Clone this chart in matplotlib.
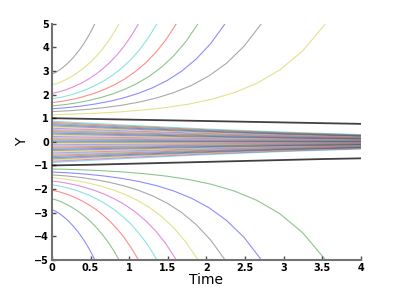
import numpy as np
import matplotlib.pyplot as plt

# MATLAB-style colour order used by the curves
colors = [(0, 0, 1), (0, 0.5, 0), (1, 0, 0), (0, 0.75, 0.75),
          (0.75, 0, 0.75), (0.75, 0.75, 0), (0.25, 0.25, 0.25)]

# outer curves above y=1 (the lower ones mirror them)
# each curve is sampled at fractions of the time where it leaves the plot
outer_frac = [0, 1/12, 2/12, 3/12, 4/12, 5/12, 6/12, 7/12, 8/12, 9/12,
              10/12, 11/12, 1]
outer_tend = [3.54, 2.71, 2.24, 1.89, 1.61, 1.36, 1.12, 0.87, 0.556]
outer_y = [
    [1.15, 1.174, 1.213, 1.268, 1.345, 1.450, 1.596, 1.800, 2.084, 2.484, 3.048, 3.852, 5.0],
    [1.28, 1.315, 1.372, 1.448, 1.549, 1.682, 1.857, 2.087, 2.390, 2.792, 3.326, 4.041, 5.0],
    [1.40, 1.444, 1.511, 1.601, 1.716, 1.865, 2.053, 2.294, 2.601, 2.995, 3.504, 4.157, 5.0],
    [1.52, 1.570, 1.646, 1.746, 1.872, 2.030, 2.226, 2.471, 2.777, 3.160, 3.638, 4.242, 5.0],
    [1.66, 1.715, 1.800, 1.908, 2.041, 2.206, 2.408, 2.655, 2.955, 3.322, 3.772, 4.322, 5.0],
    [1.82, 1.881, 1.971, 2.085, 2.224, 2.394, 2.597, 2.839, 3.131, 3.478, 3.897, 4.399, 5.0],
    [2.05, 2.115, 2.211, 2.330, 2.473, 2.643, 2.843, 3.077, 3.351, 3.671, 4.047, 4.487, 5.0],
    [2.41, 2.478, 2.576, 2.696, 2.836, 2.999, 3.186, 3.400, 3.644, 3.920, 4.235, 4.594, 5.0],
    [2.87, 2.935, 3.028, 3.139, 3.267, 3.412, 3.574, 3.756, 3.957, 4.180, 4.426, 4.699, 5.0],
]

# the two black curves starting at +1 and -1
black_t = [0, 0.5, 1, 1.5, 2, 2.5, 3, 3.5, 4]
black_up = [1.0, 0.97, 0.94, 0.91, 0.88, 0.85, 0.82, 0.79, 0.76]
black_lo = [-1.0, -0.97, -0.93, -0.89, -0.85, -0.81, -0.77, -0.73, -0.70]

# inner curves (positive half, negative half mirrors), y at t = 0..4
inner_t = [0, 1, 2, 3, 4]
inner_y0 = [0.025, 0.075, 0.125, 0.175, 0.225, 0.275, 0.325, 0.375, 0.425,
            0.475, 0.525, 0.575, 0.625, 0.675, 0.725, 0.775, 0.825, 0.875]
inner_y1 = [0.020, 0.060, 0.100, 0.140, 0.180, 0.220, 0.260, 0.300, 0.340,
            0.380, 0.420, 0.460, 0.500, 0.540, 0.580, 0.620, 0.660, 0.700]
inner_y2 = [0.016, 0.047, 0.078, 0.109, 0.140, 0.171, 0.202, 0.233, 0.264,
            0.295, 0.326, 0.357, 0.388, 0.419, 0.450, 0.481, 0.512, 0.543]
inner_y3 = [0.012, 0.035, 0.059, 0.082, 0.106, 0.129, 0.153, 0.176, 0.200,
            0.223, 0.247, 0.270, 0.294, 0.317, 0.341, 0.364, 0.388, 0.411]
inner_y4 = [0.009, 0.026, 0.044, 0.061, 0.079, 0.096, 0.114, 0.131, 0.149,
            0.166, 0.184, 0.201, 0.219, 0.236, 0.254, 0.271, 0.289, 0.306]

xticks = [0, 0.5, 1, 1.5, 2, 2.5, 3, 3.5, 4]
xticklabels = ["0", "0.5", "1", "1.5", "2", "2.5", "3", "3.5", "4"]
yticks = [-5, -4, -3, -2, -1, 0, 1, 2, 3, 4, 5]

# build the full list of curves in increasing starting value
frac = np.array(outer_frac)
curves = []
for i in range(len(outer_y) - 1, -1, -1):
    curves.append((frac * outer_tend[i], -np.array(outer_y[i]), False))
curves.append((black_t, black_lo, True))
inner = np.array([inner_y0, inner_y1, inner_y2, inner_y3, inner_y4]).T
for row in inner[::-1]:
    curves.append((inner_t, -row, False))
for row in inner:
    curves.append((inner_t, row, False))
curves.append((black_t, black_up, True))
for i in range(len(outer_y)):
    curves.append((frac * outer_tend[i], outer_y[i], False))

fig = plt.figure(figsize=(3.99, 2.93), dpi=100)
ax = fig.add_axes([0.130, 0.113, 0.775, 0.806])

for n, (t, y, is_black) in enumerate(curves):
    if is_black:
        ax.plot(t, y, color="k", lw=1.3, alpha=0.75, zorder=3)
    else:
        ax.plot(t, y, color=colors[n % 7], lw=0.8, alpha=0.45)

ax.set_xlim(0, 4)
ax.set_ylim(-5, 5)
ax.set_xticks(xticks)
ax.set_xticklabels(xticklabels)
ax.set_yticks(yticks)

for s in ["top", "right"]:
    ax.spines[s].set_visible(False)
for s in ["left", "bottom"]:
    ax.spines[s].set_color("0.45")
    ax.spines[s].set_linewidth(1.5)

ax.tick_params(direction="in", length=3, width=1, color="0.3",
               labelsize=7, pad=2)
for lab in ax.get_xticklabels() + ax.get_yticklabels():
    lab.set_fontweight("bold")

ax.set_xlabel("Time", fontsize=10, labelpad=0)
ax.set_ylabel("Y", fontsize=10, labelpad=4)

fig.savefig("out.png", dpi=100)
